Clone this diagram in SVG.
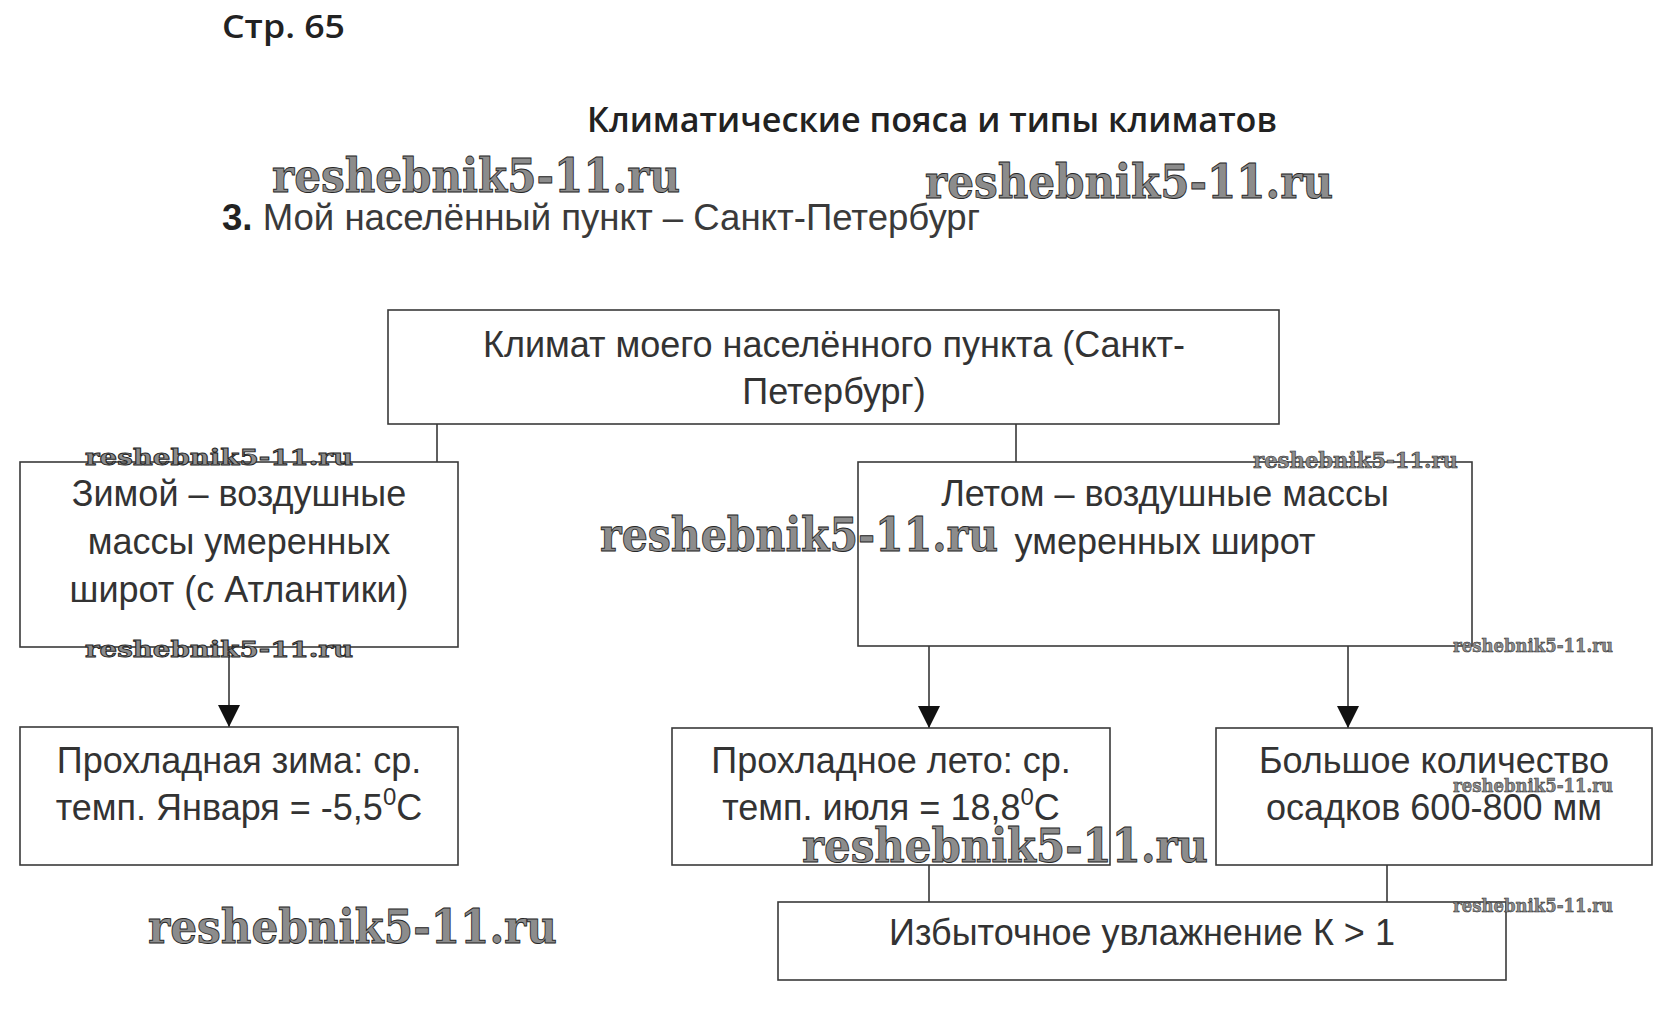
<svg xmlns="http://www.w3.org/2000/svg" width="1671" height="1033" viewBox="0 0 1671 1033">
<style>
.box{fill:#fff;stroke:#3a3a3a;stroke-width:1.6}
.t{font-family:"Liberation Sans",Arial,sans-serif;font-size:36px;fill:#333;text-anchor:middle}
.ln{stroke:#2a2a2a;stroke-width:1.5;fill:none}
.wm{font-family:"DejaVu Serif","Liberation Serif",serif;font-weight:bold;fill:#8c8c8c;stroke:#262626;stroke-width:0.9}
.hd{font-family:"Open Sans","Liberation Sans",sans-serif;font-weight:600;fill:#222}
</style>
<defs>
<marker id="ah" markerWidth="22" markerHeight="22" refX="22" refY="11" orient="auto" markerUnits="userSpaceOnUse" viewBox="0 0 22 22">
<path d="M0,0 L22,11 L0,22 Z" fill="#111"/>
</marker>
</defs>
<rect width="1671" height="1033" fill="#fff"/>
<text class="hd" x="222" y="38" font-size="32" textLength="123" lengthAdjust="spacingAndGlyphs">Стр. 65</text>
<text class="hd" x="587" y="132" font-size="34" textLength="690" lengthAdjust="spacingAndGlyphs">Климатические пояса и типы климатов</text>
<text x="222" y="230" font-family="Liberation Sans,Arial,sans-serif" font-size="36" fill="#3a3a3a" textLength="758" lengthAdjust="spacingAndGlyphs"><tspan font-weight="bold" fill="#222">3.</tspan> Мой населённый пункт – Санкт-Петербург</text>
<g id="connectors">
<line class="ln" x1="437" y1="424" x2="437" y2="462"/>
<line class="ln" x1="1016" y1="424" x2="1016" y2="462"/>
<line class="ln" x1="229" y1="647" x2="229" y2="727" marker-end="url(#ah)"/>
<line class="ln" x1="929" y1="646" x2="929" y2="728" marker-end="url(#ah)"/>
<line class="ln" x1="1348" y1="646" x2="1348" y2="728" marker-end="url(#ah)"/>
<line class="ln" x1="929" y1="865" x2="929" y2="902"/>
<line class="ln" x1="1387" y1="865" x2="1387" y2="902"/>
</g>
<g id="n-climate">
<rect class="box" x="388" y="310" width="891" height="114"/>
<text class="t" x="834" y="357">Климат моего населённого пункта (Санкт-</text>
<text class="t" x="834" y="404">Петербург)</text>
</g>
<g id="n-winter-air">
<rect class="box" x="20" y="462" width="438" height="185"/>
<text class="t" x="239" y="506">Зимой – воздушные</text>
<text class="t" x="239" y="554">массы умеренных</text>
<text class="t" x="239" y="602">широт (с Атлантики)</text>
</g>
<g id="n-summer-air">
<rect class="box" x="858" y="462" width="614" height="184"/>
<text class="t" x="1165" y="506">Летом – воздушные массы</text>
<text class="t" x="1165" y="554">умеренных широт</text>
</g>
<g id="n-winter">
<rect class="box" x="20" y="727" width="438" height="138"/>
<text class="t" x="239" y="773">Прохладная зима: ср.</text>
<text class="t" x="239" y="820">темп. Января = -5,5<tspan font-size="24" dy="-15">0</tspan><tspan dy="15">C</tspan></text>
</g>
<g id="n-summer">
<rect class="box" x="672" y="728" width="438" height="137"/>
<text class="t" x="891" y="773">Прохладное лето: ср.</text>
<text class="t" x="891" y="820">темп. июля = 18,8<tspan font-size="24" dy="-15">0</tspan><tspan dy="15">C</tspan></text>
</g>
<g id="n-precip">
<rect class="box" x="1216" y="728" width="436" height="137"/>
<text class="t" x="1434" y="773">Большое количество</text>
<text class="t" x="1434" y="820">осадков 600-800 мм</text>
</g>
<g id="n-moist">
<rect class="box" x="778" y="902" width="728" height="78"/>
<text class="t" x="1142" y="945">Избыточное увлажнение К &gt; 1</text>
</g>
<g id="watermarks">
<text class="wm" x="272" y="192" font-size="46" textLength="408" lengthAdjust="spacingAndGlyphs">reshebnik5-11.ru</text>
<text class="wm" x="925" y="198" font-size="46" textLength="408" lengthAdjust="spacingAndGlyphs">reshebnik5-11.ru</text>
<text class="wm" x="85" y="465" font-size="22" textLength="268" lengthAdjust="spacingAndGlyphs">reshebnik5-11.ru</text>
<text class="wm" x="85" y="657" font-size="22" textLength="268" lengthAdjust="spacingAndGlyphs">reshebnik5-11.ru</text>
<text class="wm" x="600" y="551" font-size="46" textLength="398" lengthAdjust="spacingAndGlyphs">reshebnik5-11.ru</text>
<text class="wm" x="1253" y="468" font-size="22" textLength="205" lengthAdjust="spacingAndGlyphs" style="stroke-width:0.6">reshebnik5-11.ru</text>
<text class="wm" x="1453" y="652" font-size="18" textLength="160" lengthAdjust="spacingAndGlyphs" style="stroke-width:0.5">reshebnik5-11.ru</text>
<text class="wm" x="1453" y="792" font-size="18" textLength="160" lengthAdjust="spacingAndGlyphs" style="stroke-width:0.5">reshebnik5-11.ru</text>
<text class="wm" x="802" y="862" font-size="46" textLength="406" lengthAdjust="spacingAndGlyphs">reshebnik5-11.ru</text>
<text class="wm" x="1453" y="912" font-size="18" textLength="160" lengthAdjust="spacingAndGlyphs" style="stroke-width:0.5">reshebnik5-11.ru</text>
<text class="wm" x="148" y="943" font-size="46" textLength="409" lengthAdjust="spacingAndGlyphs">reshebnik5-11.ru</text>
</g>
</svg>
